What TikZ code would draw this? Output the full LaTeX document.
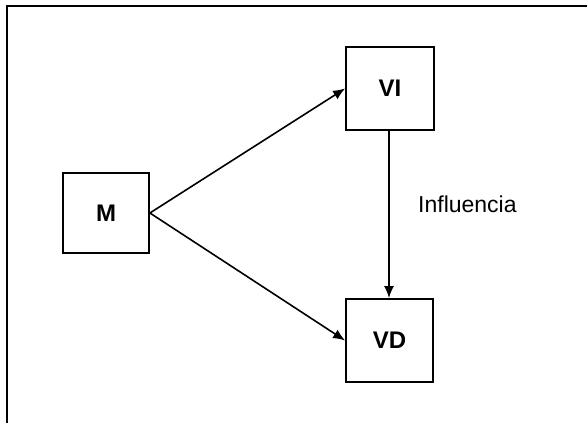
\documentclass[tikz,border=0pt]{standalone}
\usepackage{fontspec}
\setmainfont{Liberation Sans}
\usetikzlibrary{arrows.meta}
\begin{document}
\begin{tikzpicture}[x=1pt,y=-1pt,
  varbox/.style={draw=black, line width=1.8pt, minimum width=#1, minimum height=83pt,
    inner sep=0pt, font=\fontsize{24}{28}\selectfont\bfseries},
  link/.style={line width=1.6pt, -{Latex[length=12pt,width=10pt]}},
  frameline/.style={line width=2.8pt, line cap=rect}]
  \useasboundingbox (0,0) rectangle (587,423);
  % open frame: top and left edges only
  \coordinate (ftop) at (587,6);
  \coordinate (fcorner) at (7,6);
  \coordinate (fbottom) at (7,423);
  \draw[frameline] (ftop) -- (fcorner) -- (fbottom);
  % variables
  \node[varbox=86pt, minimum height=80pt] (m) at (106,213) {M};
  \node[varbox=88pt] (vi) at (390,88.5) {VI};
  \node[varbox=87pt] (vd) at (389.5,340.5) {VD};
  % relations
  \draw[link] (m.east) -- (vi.west);
  \draw[link] (m.east) -- (vd.west);
  \draw[link] (vi.south -| 389,0) -- (vd.north -| 389,0);
  \node[anchor=base west, inner sep=0pt, font=\fontsize{23}{27}\selectfont] (inf) at (418,212) {Influencia};
\end{tikzpicture}
\end{document}
